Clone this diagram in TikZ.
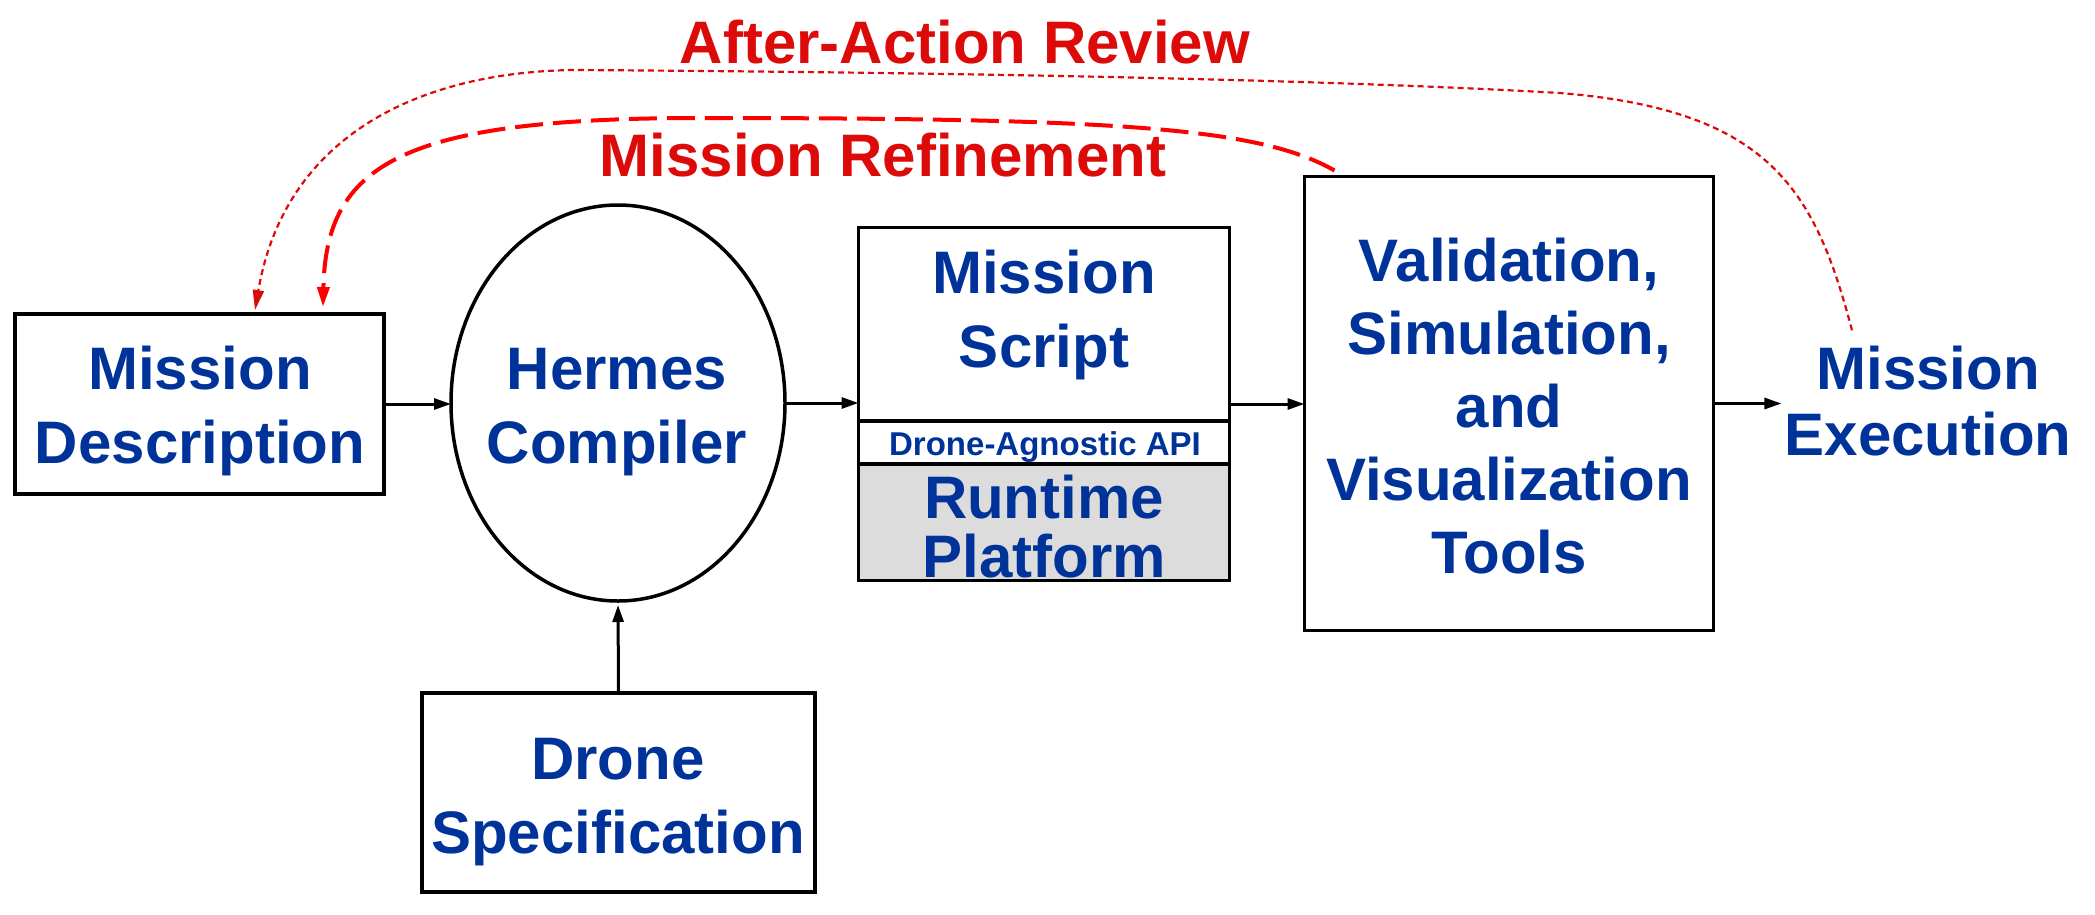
\documentclass[tikz,border=0pt]{standalone}
\usepackage{fontspec}
\setmainfont{Liberation Sans}
\usetikzlibrary{arrows.meta,shapes.geometric,calc}

\definecolor{txtblue}{HTML}{003399}
\definecolor{labred}{HTML}{DD0A0A}
\definecolor{loopred}{HTML}{FF0000}
\definecolor{platgray}{HTML}{DCDCDC}

\tikzset{
  blk/.style={draw=black, line width=#1, inner sep=0pt, outer sep=0pt},
  lbl/.style={text=txtblue, font=\bfseries\fontsize{60}{74}\selectfont,
              align=center, inner sep=0pt, anchor=base},
  redlbl/.style={text=labred, font=\bfseries\fontsize{60}{74}\selectfont,
              inner sep=0pt, anchor=base},
  flow/.style={draw=black, line width=3pt, -{Triangle[length=17pt,width=11pt]}},
  review/.style={draw=labred, line width=2.2pt, dash pattern=on 6pt off 4pt,
              -{Triangle[length=20pt,width=11pt]}},
  refine/.style={draw=loopred, line width=4pt, dash pattern=on 28pt off 10pt,
              -{Triangle[length=20pt,width=12pt]}}
}

\begin{document}
\begin{tikzpicture}[x=1pt,y=-1pt]
  \useasboundingbox (0,0) rectangle (2095,914);

  % boxes and the compiler
  \node[blk=4pt, minimum width=369pt, minimum height=180pt] (desc) at (199.5,404) {};
  \node[blk=3.5pt, ellipse, minimum width=334pt, minimum height=396pt] (hermes) at (618,403) {};
  \node[blk=3.5pt, minimum width=393pt, minimum height=199pt] (spec) at (618.5,792.5) {};

  % mission script stacked on the API and the runtime platform
  \node[blk=2.7pt, minimum width=371pt, minimum height=193.5pt] (scriptbox) at (1044,324.25) {};
  \node[blk=2.7pt, fill=platgray, minimum width=371pt, minimum height=116.5pt] (runbox) at (1044,522.25) {};
  \node[blk=3.3pt, fill=white, minimum width=371pt, minimum height=43pt] (apibox) at (1044,442.5) {};
  \node[inner sep=0pt, outer sep=0pt, minimum width=371pt, minimum height=353pt] (script) at (1044,404) {};

  \node[blk=2.7pt, minimum width=409pt, minimum height=454pt] (val) at (1509,403.5) {};

  % texts (anchored on the baseline of their last line)
  \node[lbl] (desctxt) at (200,463) {Mission\\Description};
  \node[lbl] (hermestxt) at (617,463) {Hermes\\Compiler};
  \node[lbl] (spectxt) at (618,853) {Drone\\Specification};
  \node[lbl] (scripttxt) at (1044,367) {Mission\\Script};
  \node[lbl, font=\bfseries\fontsize{33}{38}\selectfont] (apitxt) at (1045,455) {Drone-Agnostic API};
  \node[lbl, font=\bfseries\fontsize{60}{59}\selectfont] (runtxt) at (1044,577) {Runtime\\Platform};
  \node[lbl, font=\bfseries\fontsize{60}{73}\selectfont] (valtxt) at (1509,573)
       {Validation,\\Simulation,\\and\\Visualization\\Tools};
  \node[lbl, font=\bfseries\fontsize{60}{66}\selectfont] (exec) at (1928,455) {Mission\\Execution};

  \node[redlbl] (aar) at (965,63) {After-Action Review};
  \node[redlbl] (refinement) at (883,176) {Mission Refinement};

  % main flow
  \draw[flow] (desc.east) -- (desc.east -| hermes.west);
  \draw[flow] (hermes.east) -- (hermes.east -| script.west);
  \draw[flow] (script.east) -- (script.east -| val.west);
  \draw[flow, shorten >=3pt] (val.east) -- (val.east -| exec.west);
  \draw[flow, shorten >=4pt] (spec.north) -- (hermes.south);

  % feedback loops
  \coordinate (aarstart) at ($(exec.north)+(-76,-15)$);
  \coordinate (aarend) at ($(desc.north west)+(240,-4)$);
  \draw[review] (aarstart)
      .. controls (1815,190) and (1770,110) .. (1560,93)
      .. controls (1300,78) and (900,72) .. (574,70)
      .. controls (420,72) and (285,135) .. (aarend);

  \coordinate (refstart) at ($(val.north west)+(30,-6)$);
  \coordinate (refend) at ($(desc.north west)+(308,-7)$);
  \draw[refine] (refstart)
      .. controls (1260,128) and (1120,118) .. (700,118)
      .. controls (400,118) and (326,165) .. (refend);
\end{tikzpicture}
\end{document}
